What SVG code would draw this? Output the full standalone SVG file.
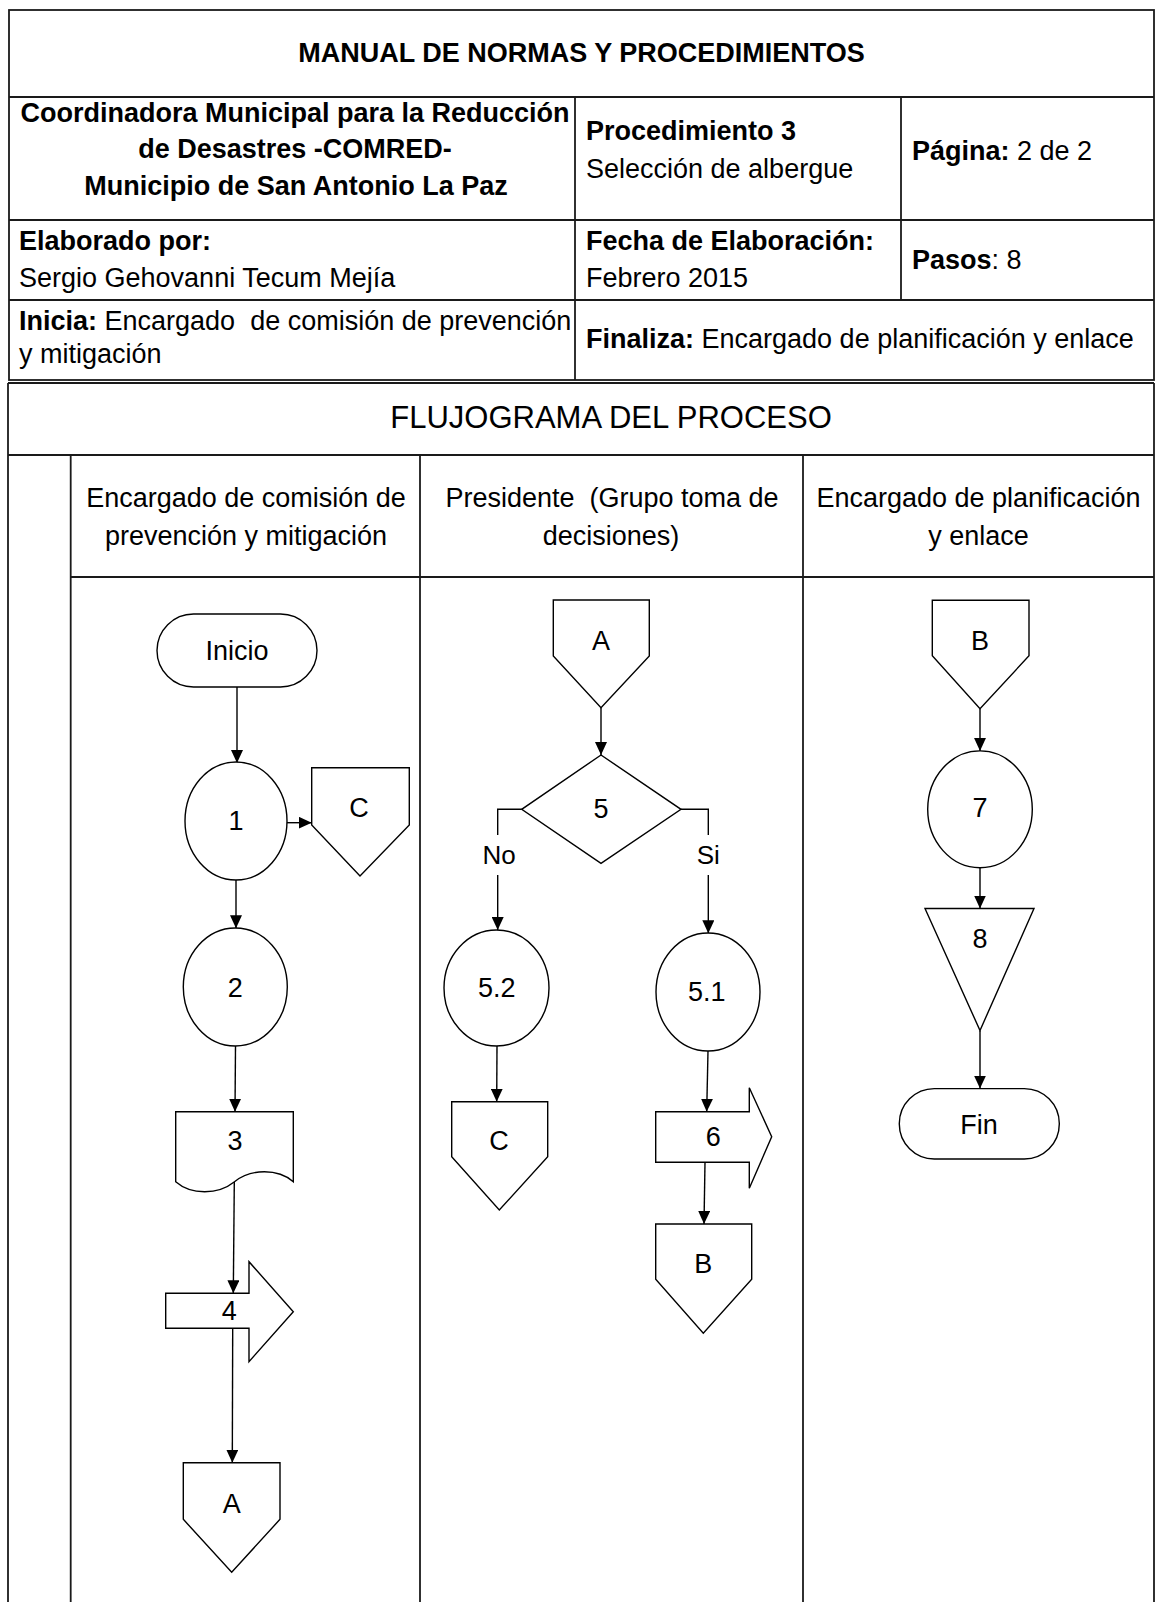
<svg xmlns="http://www.w3.org/2000/svg" width="1156" height="1602" viewBox="0 0 1156 1602">
<style>
  text { font-family: "Liberation Sans", Arial, sans-serif; font-size: 27px; fill: #000; }
  .b { font-weight: bold; }
  .c { text-anchor: middle; }
  .tbl { stroke: #1a1a1a; stroke-width: 1.8; fill: none; }
  .shape { fill: #fff; stroke: #000; stroke-width: 1.4; }
  .conn line, .conn polyline { stroke: #000; stroke-width: 1.4; fill: none; }
  .arr { marker-end: url(#ah); }
</style>
<defs>
  <marker id="ah" markerUnits="userSpaceOnUse" markerWidth="13" markerHeight="12" refX="13" refY="6" orient="auto">
    <path d="M0,0 L13,6 L0,12 z" fill="#000"/>
  </marker>
</defs>
<rect x="0" y="0" width="1156" height="1602" fill="#fff"/>

<g id="header-table">
  <rect class="tbl" x="9" y="10" width="1145" height="370"/>
  <line class="tbl" x1="9" y1="97" x2="1154" y2="97"/>
  <line class="tbl" x1="9" y1="220" x2="1154" y2="220"/>
  <line class="tbl" x1="9" y1="300" x2="1154" y2="300"/>
  <line class="tbl" x1="575" y1="97" x2="575" y2="380"/>
  <line class="tbl" x1="901" y1="97" x2="901" y2="300"/>

  <text class="b c" x="581.5" y="61.7">MANUAL DE NORMAS Y PROCEDIMIENTOS</text>

  <text class="b c" x="295" y="121.7">Coordinadora Municipal para la Reducción</text>
  <text class="b c" x="295" y="158.3">de Desastres -COMRED-</text>
  <text class="b c" x="296" y="195">Municipio de San Antonio La Paz</text>

  <text class="b" x="586" y="140">Procedimiento 3</text>
  <text x="586" y="178.3">Selección de albergue</text>

  <text x="912" y="160"><tspan class="b">Página:</tspan> 2 de 2</text>

  <text class="b" x="19" y="250">Elaborado por:</text>
  <text x="19" y="286.7">Sergio Gehovanni Tecum Mejía</text>

  <text class="b" x="586" y="250">Fecha de Elaboración:</text>
  <text x="586" y="286.7">Febrero 2015</text>

  <text x="912" y="268.5"><tspan class="b">Pasos</tspan>: 8</text>

  <text x="19" y="330" xml:space="preserve"><tspan class="b">Inicia:</tspan> Encargado  de comisión de prevención</text>
  <text x="19" y="363.3">y mitigación</text>

  <text x="586" y="348.3"><tspan class="b">Finaliza:</tspan> Encargado de planificación y enlace</text>
</g>

<g id="flow-table">
  <line class="tbl" x1="8" y1="383" x2="1154" y2="383"/>
  <line class="tbl" x1="8" y1="383" x2="8" y2="1602"/>
  <line class="tbl" x1="1154" y1="383" x2="1154" y2="1602"/>
  <line class="tbl" x1="8" y1="455" x2="1154" y2="455"/>
  <line class="tbl" x1="70.7" y1="455" x2="70.7" y2="1602"/>
  <line class="tbl" x1="420" y1="455" x2="420" y2="1602"/>
  <line class="tbl" x1="803" y1="455" x2="803" y2="1602"/>
  <line class="tbl" x1="70.7" y1="577" x2="1154" y2="577"/>
  <text class="c" x="611" y="428.3" style="font-size:31px">FLUJOGRAMA DEL PROCESO</text>
</g>

<g id="lane-headers">
  <text class="c" x="246" y="506.7">Encargado de comisión de</text>
  <text class="c" x="246" y="545">prevención y mitigación</text>
  <text class="c" x="612" y="506.7" xml:space="preserve">Presidente  (Grupo toma de</text>
  <text class="c" x="611" y="545">decisiones)</text>
  <text class="c" x="978.5" y="506.7">Encargado de planificación</text>
  <text class="c" x="978.5" y="545">y enlace</text>
</g>

<g id="connectors" class="conn">
  <line class="arr" x1="237" y1="687" x2="237" y2="763"/>
  <line class="arr" x1="287" y1="822.7" x2="311.7" y2="822.7"/>
  <line class="arr" x1="236" y1="880" x2="236" y2="928.3"/>
  <line class="arr" x1="235.5" y1="1046" x2="235" y2="1111.7"/>
  <line class="arr" x1="234.3" y1="1182" x2="233.3" y2="1293.3"/>
  <line class="arr" x1="232.7" y1="1328.3" x2="232.3" y2="1462.7"/>

  <line class="arr" x1="601" y1="707.7" x2="601" y2="755"/>
  <polyline points="521.7,809.3 497.7,809.3 497.7,835"/>
  <line class="arr" x1="497.7" y1="875" x2="497.7" y2="930"/>
  <polyline points="681,809.3 708.3,809.3 708.3,835"/>
  <line class="arr" x1="708.3" y1="875" x2="708.3" y2="933.3"/>
  <line class="arr" x1="497" y1="1046" x2="496.7" y2="1101.7"/>
  <line class="arr" x1="708" y1="1051" x2="706.7" y2="1111.7"/>
  <line class="arr" x1="705" y1="1162.3" x2="704" y2="1224"/>

  <line class="arr" x1="980" y1="708.7" x2="980" y2="750.9"/>
  <line class="arr" x1="980" y1="867.8" x2="980" y2="908.5"/>
  <line class="arr" x1="980" y1="1030.5" x2="980" y2="1088.6"/>

  <text class="c" x="499" y="864" style="font-size:26px">No</text>
  <text class="c" x="708.3" y="864" style="font-size:26px">Si</text>
</g>

<g id="inicio">
  <rect class="shape" x="157" y="614" width="160" height="73" rx="36.5"/>
  <text class="c" x="237" y="660">Inicio</text>
</g>
<g id="step1">
  <ellipse class="shape" cx="236" cy="821" rx="51" ry="59"/>
  <text class="c" x="236" y="830">1</text>
</g>
<g id="conn-c1">
  <polygon class="shape" points="311.7,767.7 409.3,767.7 409.3,825 360,876 311.7,825"/>
  <text class="c" x="359" y="816.7">C</text>
</g>
<g id="step2">
  <ellipse class="shape" cx="235.3" cy="987" rx="52" ry="59"/>
  <text class="c" x="235.3" y="996.7">2</text>
</g>
<g id="step3">
  <path class="shape" d="M175.7,1111.7 H293.3 V1181.7 C278,1168.5 251,1168.5 234.5,1181.7 C218,1195 191,1195 175.7,1181.7 Z"/>
  <text class="c" x="235" y="1150">3</text>
</g>
<g id="step4">
  <polygon class="shape" points="165.7,1293.3 249,1293.3 249,1261.7 293.3,1311.7 249,1361.7 249,1328.3 165.7,1328.3"/>
  <text class="c" x="229.3" y="1320">4</text>
</g>
<g id="conn-a-out">
  <polygon class="shape" points="183.3,1462.7 280,1462.7 280,1519.3 231.7,1572.3 183.3,1519.3"/>
  <text class="c" x="231.7" y="1513.3">A</text>
</g>

<g id="conn-a-in">
  <polygon class="shape" points="553.3,600 649.3,600 649.3,656 601,707.7 553.3,656"/>
  <text class="c" x="601" y="650">A</text>
</g>
<g id="step5">
  <polygon class="shape" points="601,755 681,809.3 601,863.3 521.7,809.3"/>
  <text class="c" x="601" y="818.3">5</text>
</g>
<g id="step5-2">
  <ellipse class="shape" cx="496.5" cy="988" rx="52.5" ry="58"/>
  <text class="c" x="496.7" y="997.3">5.2</text>
</g>
<g id="conn-c2">
  <polygon class="shape" points="451.7,1101.7 547.7,1101.7 547.7,1156.7 499.3,1210 451.7,1156.7"/>
  <text class="c" x="499" y="1150">C</text>
</g>
<g id="step5-1">
  <ellipse class="shape" cx="708" cy="992" rx="52" ry="59"/>
  <text class="c" x="706.7" y="1000.7">5.1</text>
</g>
<g id="step6">
  <polygon class="shape" points="655.7,1111.7 749.3,1111.7 749.3,1087.7 771.7,1136.7 749.3,1188.3 749.3,1162.3 655.7,1162.3"/>
  <text class="c" x="713.3" y="1146">6</text>
</g>
<g id="conn-b-out">
  <polygon class="shape" points="655.7,1224 751.7,1224 751.7,1279.3 703.3,1333.3 655.7,1279.3"/>
  <text class="c" x="703.3" y="1273.3">B</text>
</g>

<g id="conn-b-in">
  <polygon class="shape" points="932.3,600.3 1029,600.3 1029,655.8 980,708.7 932.3,655.8"/>
  <text class="c" x="980" y="650.3">B</text>
</g>
<g id="step7">
  <ellipse class="shape" cx="980" cy="809.3" rx="52.3" ry="58.4"/>
  <text class="c" x="980" y="816.7">7</text>
</g>
<g id="step8">
  <polygon class="shape" points="925,908.5 1034,908.5 980,1030.5"/>
  <text class="c" x="980" y="948">8</text>
</g>
<g id="fin">
  <rect class="shape" x="899.3" y="1088.6" width="160" height="70.4" rx="35"/>
  <text class="c" x="979" y="1133.8">Fin</text>
</g>
</svg>
